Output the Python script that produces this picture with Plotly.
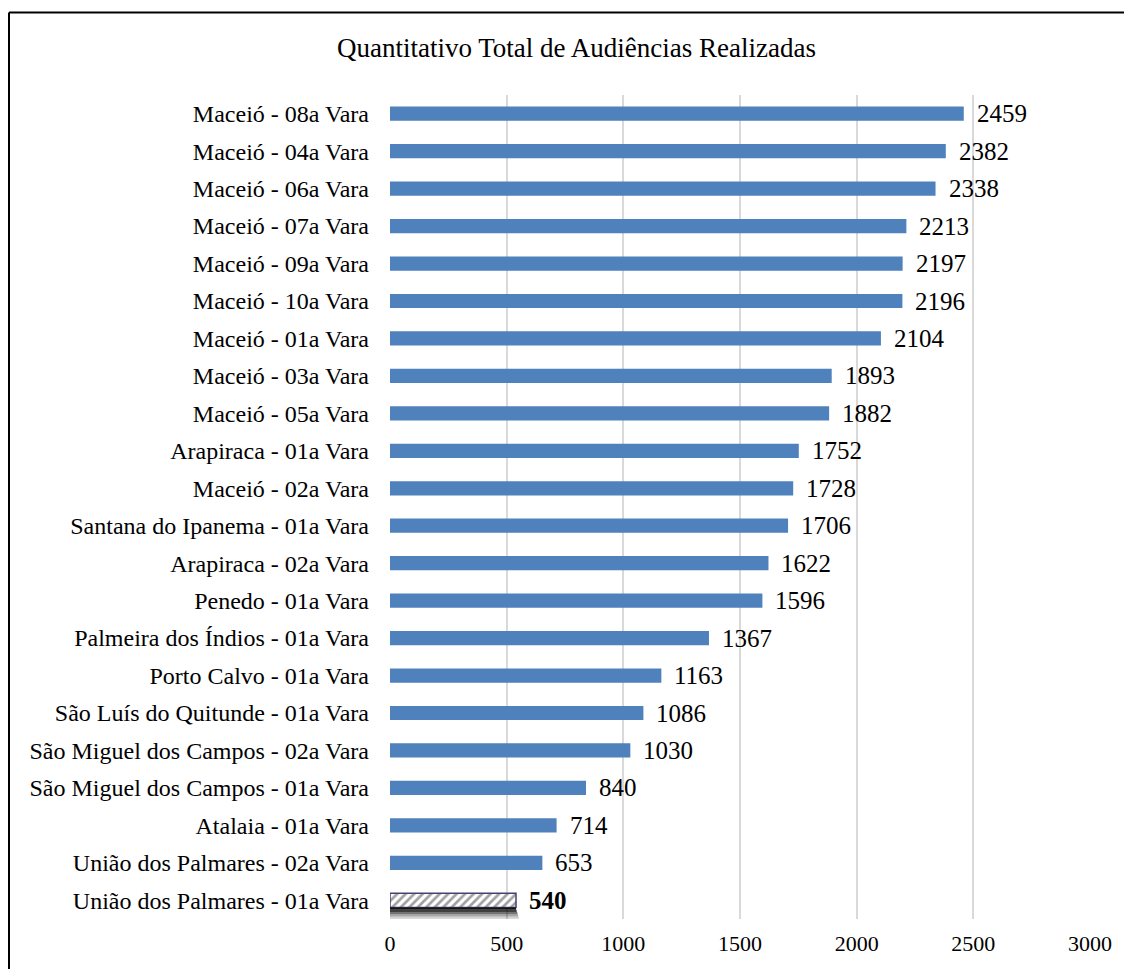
import plotly.graph_objects as go

categories = [
    "Maceió - 08a Vara", "Maceió - 04a Vara", "Maceió - 06a Vara", "Maceió - 07a Vara",
    "Maceió - 09a Vara", "Maceió - 10a Vara", "Maceió - 01a Vara", "Maceió - 03a Vara",
    "Maceió - 05a Vara", "Arapiraca - 01a Vara", "Maceió - 02a Vara",
    "Santana do Ipanema - 01a Vara", "Arapiraca - 02a Vara", "Penedo - 01a Vara",
    "Palmeira dos Índios - 01a Vara", "Porto Calvo - 01a Vara",
    "São Luís do Quitunde - 01a Vara", "São Miguel dos Campos - 02a Vara",
    "São Miguel dos Campos - 01a Vara", "Atalaia - 01a Vara",
    "União dos Palmares - 02a Vara", "União dos Palmares - 01a Vara",
]
values = [2459, 2382, 2338, 2213, 2197, 2196, 2104, 1893, 1882, 1752, 1728,
          1706, 1622, 1596, 1367, 1163, 1086, 1030, 840, 714, 653, 540]
x_ticks = [0, 500, 1000, 1500, 2000, 2500, 3000]
title_text = "Quantitativo Total de Audiências Realizadas"

highlight = "União dos Palmares - 01a Vara"
BLUE = "#4F81BD"
FONT = "Liberation Serif"

# layout geometry (figure pixels)
W, H = 1132, 969
ML, MR, MT, MB = 382, 50, 87, 58
PW, PH = W - ML - MR, H - MT - MB


def px_x(px):
    return (px - ML) / PW


def px_y(py):
    return (H - MB - py) / PH


colors = ["white" if c == highlight else BLUE for c in categories]
shapes_pat = ["/" if c == highlight else "" for c in categories]
line_cols = ["#4B3F72" if c == highlight else BLUE for c in categories]
line_w = [1.5 if c == highlight else 0 for c in categories]

fig = go.Figure()
fig.add_trace(go.Bar(
    y=categories, x=values, orientation="h",
    marker=dict(color=colors, line=dict(color=line_cols, width=line_w),
                pattern=dict(shape=shapes_pat, fgcolor=BLUE, bgcolor="white",
                             size=6, solidity=0.45)),
    width=0.38, hoverinfo="skip",
))

annotations = []
for c, v in zip(categories, values):
    bold = c == highlight
    annotations.append(dict(
        x=v, y=c, xref="x", yref="y", text=f"<b>{v}</b>" if bold else str(v),
        showarrow=False, xanchor="left", xshift=11,
        font=dict(family=FONT, size=25, color="black"),
    ))
annotations.append(dict(
    x=px_x(568), y=px_y(40), xref="paper", yref="paper", text=title_text, showarrow=False,
    font=dict(family=FONT, size=27, color="black"), xanchor="center", yanchor="middle",
))

# shadow under highlighted bar (decorative)
order = categories[::-1]
pos = order.index(highlight)
hv = values[categories.index(highlight)]
shapes = []
step = 0.06
for i, a in enumerate([0.9, 0.75, 0.55, 0.35, 0.18, 0.07]):
    shapes.append(dict(type="rect", xref="x", yref="y",
                       x0=0, x1=hv + 3 * i,
                       y0=pos - 0.19 - step * i, y1=pos - 0.19 - step * (i + 1),
                       fillcolor=f"rgba(0,0,0,{a})", line=dict(width=0), layer="above"))

fig.update_layout(
    width=W, height=H,
    margin=dict(l=ML, r=MR, t=MT, b=MB),
    paper_bgcolor="white", plot_bgcolor="white",
    showlegend=False,
    annotations=annotations,
    shapes=shapes,
    font=dict(family=FONT, size=22, color="black"),
    bargap=0.62,
)

fig.update_xaxes(range=[0, 3000], tickvals=x_ticks, showgrid=True, gridcolor="#D9D9D9",
                 gridwidth=2, zeroline=False, showline=False, ticks="", ticklabelstandoff=9,
                 tickfont=dict(family=FONT, size=22, color="black"), fixedrange=True)
fig.update_yaxes(categoryorder="array", categoryarray=order, autorange=False,
                 range=[-0.5, len(categories) - 0.5], showgrid=False, zeroline=False,
                 ticks="", ticklabelstandoff=20,
                 tickfont=dict(family=FONT, size=24, color="black"))

# outer frame (top and left edges visible)
fig.add_shape(type="line", xref="paper", yref="paper",
              x0=px_x(1), x1=px_x(W + 10), y0=px_y(4.5), y1=px_y(4.5),
              line=dict(color="black", width=2))
fig.add_shape(type="line", xref="paper", yref="paper",
              x0=px_x(1), x1=px_x(1), y0=px_y(4.5), y1=px_y(H + 10),
              line=dict(color="black", width=2))

fig.write_html("out.html")
